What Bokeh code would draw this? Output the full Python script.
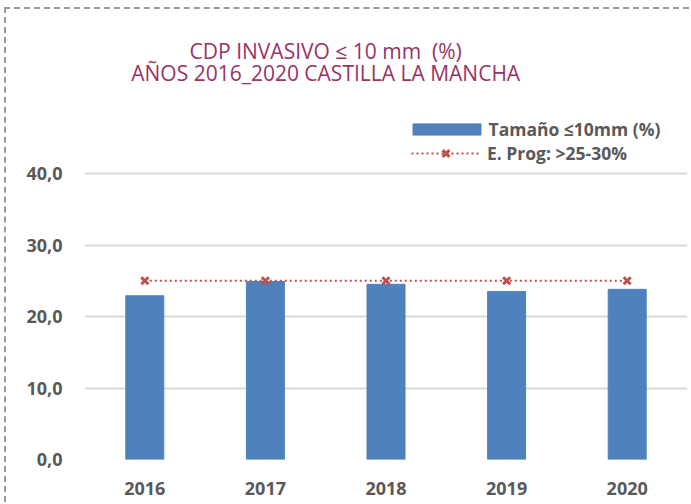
from bokeh.plotting import figure
from bokeh.models import ColumnDataSource, FixedTicker, Range1d, Label, Legend, LegendItem
from bokeh.embed import file_html
from bokeh.resources import INLINE

years = ["2016", "2017", "2018", "2019", "2020"]
tamano = [22.9, 24.9, 24.5, 23.5, 23.8]
objetivo = [25.0, 25.0, 25.0, 25.0, 25.0]
y_ticks = [0, 10, 20, 30, 40]
y_tick_labels = ["0,0", "10,0", "20,0", "30,0", "40,0"]
title_1 = "CDP INVASIVO ≤ 10 mm \u00a0(%)"
title_2 = "AÑOS 2016_2020 CASTILLA LA MANCHA"
serie_1 = "Tamaño ≤10mm (%)"
serie_2 = "E. Prog: >25-30%"

FONT = "Open Sans"
GREY = "#595959"

src = ColumnDataSource(dict(x=years, t=tamano, o=objetivo))

p = figure(x_range=years, y_range=Range1d(0, 62.94), width=685, height=495,
           output_backend="svg", toolbar_location=None,
           min_border_left=78, min_border_right=4, min_border_top=0, min_border_bottom=45)
p.title.visible = False
p.outline_line_color = None
p.background_fill_color = "white"
p.border_fill_color = "white"
p.styles = {"margin-left": "4px", "margin-top": "7px",
            "border-top": "2px dashed #9a9a9a", "border-left": "2px dashed #9a9a9a"}

bars = p.vbar(x="x", top="t", width=0.315, source=src, fill_color="#4F81BD",
              line_color="#4F81BD")
ln = p.line(x="x", y="o", source=src, line_color="#C0504D", line_width=2,
            line_dash="2 3")
mk = p.scatter(x="x", y="o", source=src, marker="x", size=10, line_color="#C0504D",
               line_width=3)

p.xgrid.grid_line_color = None
p.ygrid.grid_line_color = "#d9d9d9"
p.ygrid.grid_line_width = 2
p.ygrid.ticker = FixedTicker(ticks=y_ticks)

p.yaxis.ticker = FixedTicker(ticks=y_ticks)
p.yaxis.major_label_overrides = {t: l for t, l in zip(y_ticks, y_tick_labels)}
for ax in (p.xaxis, p.yaxis):
    ax.axis_line_color = None
    ax.major_tick_line_color = None
    ax.minor_tick_line_color = None
    ax.major_tick_out = 0
    ax.major_tick_in = 0
    ax.major_label_text_font = FONT
    ax.major_label_text_font_style = "bold"
    ax.major_label_text_color = GREY
    ax.major_label_text_font_size = "18px"
p.yaxis.major_label_standoff = 22
p.xaxis.major_label_standoff = 22

for txt, yy in ((title_1, 57.2), (title_2, 54.0)):
    p.add_layout(Label(x=2.0, y=yy, text=txt, text_align="center", text_baseline="middle",
                       text_font=FONT, text_font_size="21px", text_color="#993366"))

common = dict(padding=0, margin=0, border_line_color=None, background_fill_alpha=0,
              label_text_font=FONT, label_text_font_style="bold",
              label_text_color=GREY, label_text_font_size="17.5px")
legend1 = Legend(items=[LegendItem(label=serie_1, renderers=[bars])],
                 location=(319.5, 318.5), glyph_width=85, glyph_height=14,
                 label_height=14, label_standoff=0, **common)
legend2 = Legend(items=[LegendItem(label=serie_2, renderers=[ln, mk])],
                 location=(327, 294.5), glyph_width=69, glyph_height=24,
                 label_height=24, label_standoff=7, **common)
p.add_layout(legend1)
p.add_layout(legend2)

open("out.html", "w").write(file_html(p, INLINE))
